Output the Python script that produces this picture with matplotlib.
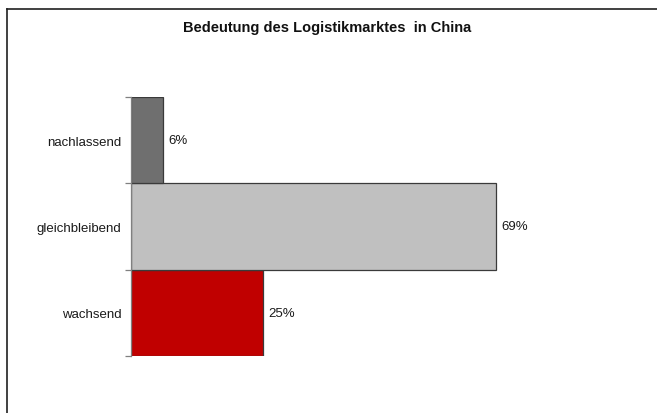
import matplotlib.pyplot as plt
from matplotlib.lines import Line2D

# Daten
kategorien = ['wachsend', 'gleichbleibend', 'nachlassend']
anteile = [25, 69, 6]
farben = ['#c00000', '#c0c0c0', '#6f6f6f']
titel = 'Bedeutung des Logistikmarktes  in China'

plt.rcParams['font.family'] = ['Liberation Sans', 'DejaVu Sans']

fig = plt.figure(figsize=(6.57, 4.14), dpi=100)
W, H = 657, 414

# Rahmen (nur oben und links sichtbar)
fig.add_artist(Line2D([7 / W, 1], [1 - 10 / H, 1 - 10 / H], color='#202020', lw=1.2,
                      transform=fig.transFigure))
fig.add_artist(Line2D([7 / W, 7 / W], [0, 1 - 10 / H], color='#202020', lw=1.2,
                      transform=fig.transFigure))

ax = fig.add_axes([131 / W, 1 - 357 / H, (600 - 131) / W, (357 - 98) / H])
pos = list(range(len(kategorien)))
ax.barh(pos, anteile, height=1.0, color=farben, edgecolor='#3a3a3a', linewidth=0.9)

for p, v in zip(pos, anteile):
    ax.text(v + 1.0, p, f'{v}%', va='center', ha='left', fontsize=9.5, color='#1a1a1a')

ax.set_xlim(0, 469 / (365 / 69))
ax.set_ylim(-0.5, 2.5)

for s in ['top', 'right', 'bottom']:
    ax.spines[s].set_visible(False)
ax.spines['left'].set_color('#808080')
ax.spines['left'].set_linewidth(0.9)
ax.set_xticks([])

# Teilstriche zwischen den Balken, Beschriftung in der Mitte
ax.set_yticks([-0.5, 0.5, 1.5, 2.5])
ax.set_yticklabels([])
ax.tick_params(axis='y', which='major', length=4, color='#808080', width=0.9)
ax.set_yticks(pos, minor=True)
ax.set_yticklabels(kategorien, minor=True, fontsize=9.5, color='#1a1a1a')
ax.tick_params(axis='y', which='minor', length=0, pad=7)

fig.text(327 / W, 1 - 28 / H, titel, ha='center', va='center', fontsize=10.5,
         fontweight='bold', color='#111111')

fig.savefig('out.png', dpi=100, facecolor='white')
